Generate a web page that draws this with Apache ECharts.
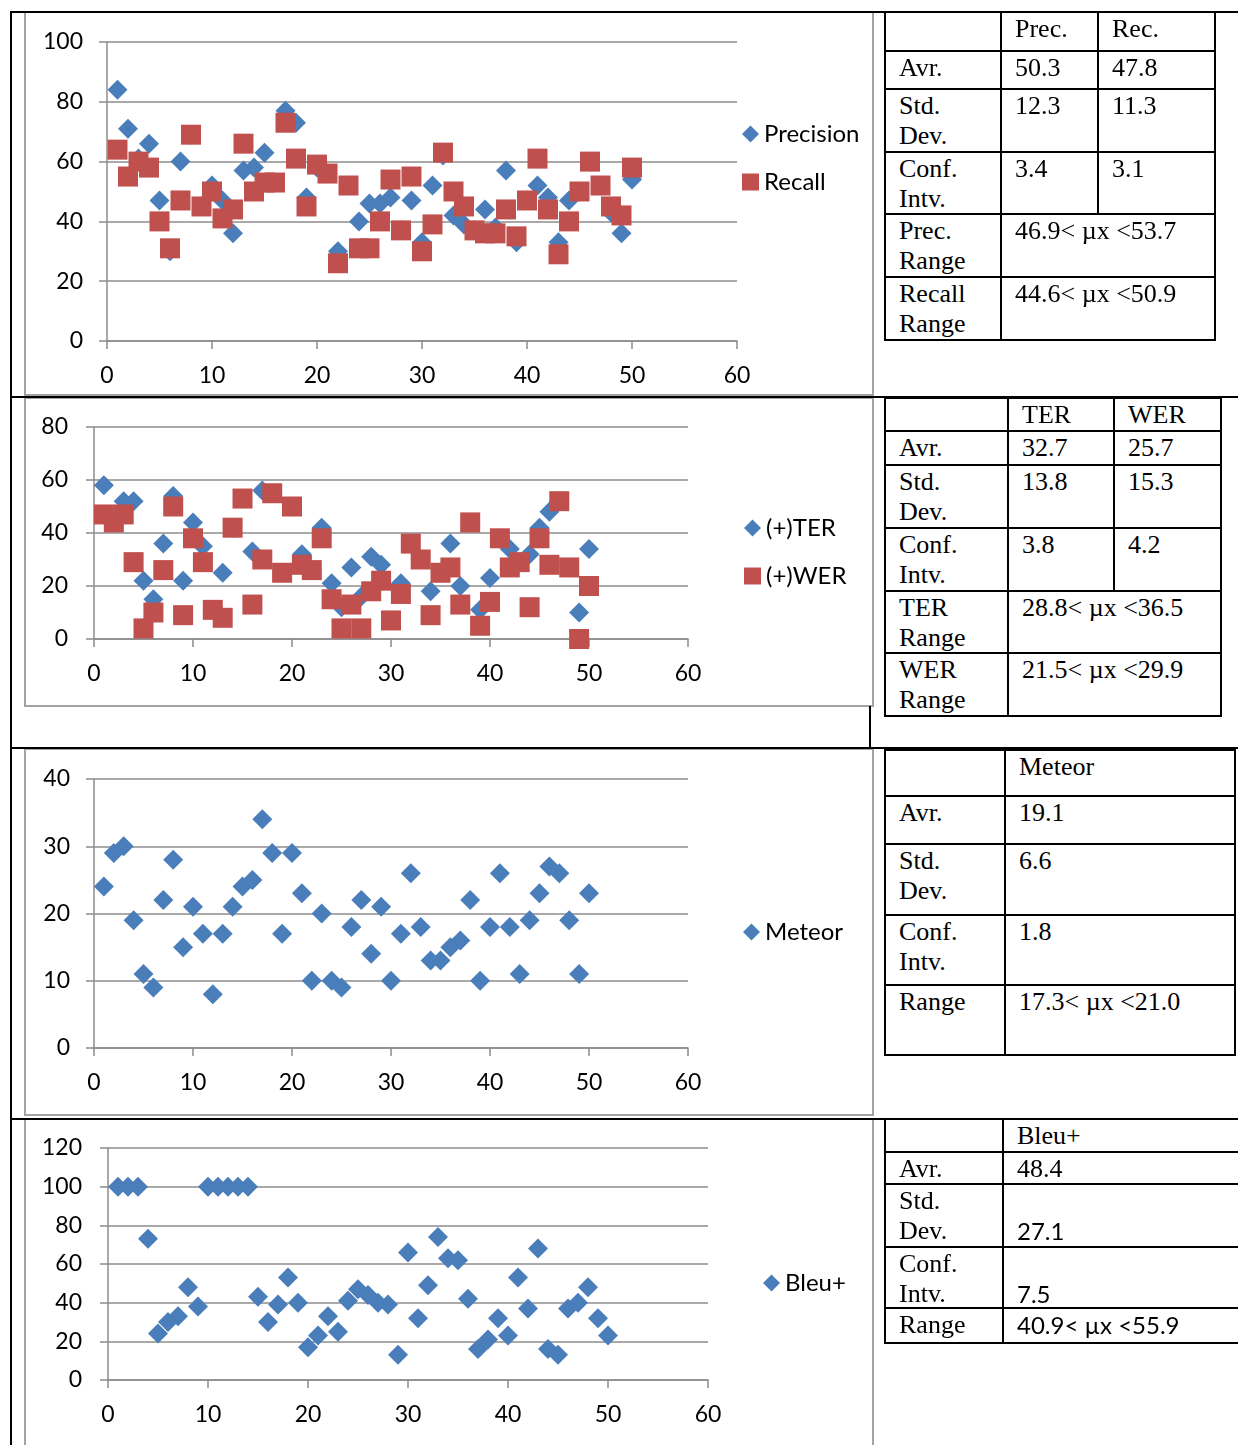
<!DOCTYPE html>
<html><head><meta charset="utf-8">
<script src="https://cdn.jsdelivr.net/npm/echarts@6/dist/echarts.min.js"></script>
<style>
html,body{margin:0;padding:0;background:#fff;}
body{width:1238px;height:1445px;overflow:hidden;position:relative;}
.ln{position:absolute;background:#000;z-index:5;}
.frame{position:absolute;border:2px solid #a3a3a3;box-sizing:border-box;z-index:1;}
.chart{position:absolute;z-index:2;}
.t{position:absolute;font-family:"Liberation Serif","Times New Roman",serif;font-size:26px;line-height:30px;color:#000;white-space:nowrap;z-index:6;}
.t.s{font-family:Lato,"Open Sans",sans-serif;font-size:24px;}
</style></head><body>
<div id="c1" class="chart" style="left:25px;top:12px;width:848px;height:383px"></div>
<div id="c2" class="chart" style="left:25px;top:398px;width:848px;height:308px"></div>
<div id="c3" class="chart" style="left:25px;top:750px;width:848px;height:365px"></div>
<div id="c4" class="chart" style="left:25px;top:1120px;width:848px;height:325px"></div>
<script>
// ---------- data ----------
const sampleIds = [1,2,3,4,5,6,7,8,9,10,11,12,13,14,15,16,17,18,19,20,21,22,23,24,25,26,27,28,29,30,31,32,33,34,35,36,37,38,39,40,41,42,43,44,45,46,47,48,49,50];
const precision = [84,71,61,66,47,30,60,69,45,52, 47,36,57,58,63,53,77,73,48,58, 56,30,52,40,46,46,48,37,47,33, 52,62,42,39,37,44,38,57,33,47, 52,48,33,47,50,60,52,43,36,54];
const recall    = [64,55,60,58,40,31,47,69,45,50, 41,44,66,50,53,53,73,61,45,59, 56,26,52,31,31,40,54,37,55,30, 39,63,50,45,37,36,36,44,35,47, 61,44,29,40,50,60,52,45,42,58];
const terScores = [58,44,52,52,22,15,36,54,22,44, 35,11,25,42,53,33,56,55,25,50, 32,26,42,21,12,27,16,31,28,7, 21,36,30,18,25,36,20,44,11,23, 38,34,29,32,42,48,52,27,10,34];
const werScores = [47,44,47,29,4,10,26,50,9,38, 29,11,8,42,53,13,30,55,25,50, 28,26,38,15,4,13,4,18,22,7, 17,36,30,9,25,27,13,44,5,14, 38,27,29,12,38,28,52,27,0,20];
const meteorScores = [24,29,30,19,11,9,22,28,15,21, 17,8,17,21,24,25,34,29,17,29, 23,10,20,10,9,18,22,14,21,10, 17,26,18,13,13,15,16,22,10,18, 26,18,11,19,23,27,26,19,11,23];
const bleuScores = [100,100,100,73,24,30,33,48,38,100, 100,100,100,100,43,30,39,53,40,17, 23,33,25,41,47,44,40,39,13,66, 32,49,74,63,62,42,16,21,32,23, 53,37,68,16,13,37,40,48,32,23];
const xAxisRange = [0, 60, 10];
const yRanges = { c1:[0,100,20], c2:[0,80,20], c3:[0,40,10], c4:[0,120,20] };
const seriesNames = { p:'Precision', r:'Recall', ter:'(+)TER', wer:'(+)WER', met:'Meteor', bleu:'Bleu+' };

// table texts
const table1 = [["", "Prec.", "Rec."],["Avr.","50.3","47.8"],["Std.<br>Dev.","12.3","11.3"],["Conf.<br>Intv.","3.4","3.1"],["Prec.<br>Range","46.9&lt; µx &lt;53.7"],["Recall<br>Range","44.6&lt; µx &lt;50.9"]];
const table2 = [["", "TER", "WER"],["Avr.","32.7","25.7"],["Std.<br>Dev.","13.8","15.3"],["Conf.<br>Intv.","3.8","4.2"],["TER<br>Range","28.8&lt; µx &lt;36.5"],["WER<br>Range","21.5&lt; µx &lt;29.9"]];
const table3 = [["", "Meteor"],["Avr.","19.1"],["Std.<br>Dev.","6.6"],["Conf.<br>Intv.","1.8"],["Range","17.3&lt; µx &lt;21.0"]];
const table4 = [["", "Bleu+"],["Avr.","48.4"],["Std.<br>Dev.","s2:27.1"],["Conf.<br>Intv.","s2:7.5"],["Range","s:40.9&lt; µx &lt;55.9"]];

// ---------- layout (lines/tables) ----------
function line(x,y,w,h){const d=document.createElement('div');d.className='ln';d.style.cssText=`left:${x}px;top:${y}px;width:${w}px;height:${h}px`;document.body.appendChild(d);}
function frame(x,y,w,h){const d=document.createElement('div');d.className='frame';d.style.cssText=`left:${x}px;top:${y}px;width:${w}px;height:${h}px`;document.body.appendChild(d);}
frame(24,11,850,385); frame(24,397,850,310); frame(24,748,850,368); frame(24,1118,850,340);
line(10,11,2,1434);
[11,396,747,1118].forEach(y=>line(10,y,1228,2));
line(869,706,2,42);

function table(cols, rows, cells, off){
  const L=cols[0], R=cols[cols.length-1];
  rows.forEach(y=>line(L-1,y-1,R-L+2,2));
  for(let r=0;r<rows.length-1;r++){
    const y0=rows[r], y1=rows[r+1];
    const row=cells[r];
    line(L-1,y0-1,2,y1-y0+2); line(R-1,y0-1,2,y1-y0+2);
    for(let c=1;c<cols.length-1;c++){ if(row.length>c) line(cols[c]-1,y0-1,2,y1-y0+2); }
    row.forEach((txt,c)=>{
      if(!txt) return;
      const d=document.createElement('div'); d.className='t';
      let extra=0;
      if(txt.startsWith('s2:')){d.classList.add('s');txt=txt.slice(3);extra=30;}
      else if(txt.startsWith('s:')){d.classList.add('s');txt=txt.slice(2);}
      d.innerHTML=txt;
      d.style.left=(cols[c]+14)+'px'; d.style.top=(y0+off+extra)+'px';
      document.body.appendChild(d);
    });
  }
}
table([885,1001,1098,1215],[12,51,89,152,214,277,340],table1,2);
table([885,1008,1114,1221],[398,431,465,528,591,653,716],table2,1.5);
table([885,1005,1235],[750,796,844,915,985,1055],table3,2);
table([885,1003,1245],[1119,1152,1184,1247,1308,1343],table4,2);

// ---------- charts ----------
const BLUE='#4A7EBB', RED='#C0504D', AX='#8c8c8c';
function pts(vals){return sampleIds.map((x,i)=>[x,vals[i]]);}
function build(id, grid, yMargin, legendPos, series){
  const chart=echarts.init(document.getElementById(id),null,{renderer:'canvas'});
  const yr=yRanges[id];
  const lab={fontSize:23,color:'#000',fontFamily:'Lato'};
  chart.setOption({
    animation:false,
    textStyle:{fontFamily:'Lato'},
    grid:Object.assign({containLabel:false,outerBoundsMode:'none'},grid),
    xAxis:{type:'value',min:xAxisRange[0],max:xAxisRange[1],interval:xAxisRange[2],
      axisLine:{show:true,onZero:false,lineStyle:{color:AX,width:1.5}},
      axisTick:{show:true,inside:false,length:8,lineStyle:{color:AX,width:1.5}},
      axisLabel:Object.assign({margin:23,showMinLabel:true,showMaxLabel:true},lab),
      splitLine:{show:false}},
    yAxis:{type:'value',min:yr[0],max:yr[1],interval:yr[2],
      axisLine:{show:true,lineStyle:{color:AX,width:1.5}},
      axisTick:{show:true,inside:false,length:8,lineStyle:{color:AX,width:1.5}},
      axisLabel:Object.assign({margin:yMargin,showMinLabel:true,showMaxLabel:true},lab),
      splitLine:{show:true,lineStyle:{color:AX,width:1.5}}},
    legend:{orient:'vertical',left:legendPos[0],top:legendPos[1],padding:0,itemWidth:17,itemHeight:17,itemGap:24,
      selectedMode:false,
      textStyle:{fontSize:24,color:'#000',fontFamily:'Lato',lineHeight:24},
      data:series.map(s=>({name:s.name,icon:s.symbol,itemStyle:{color:s.color}}))},
    series:series.map(s=>({type:'scatter',name:s.name,data:pts(s.values),symbol:s.symbol,
      symbolSize:20,itemStyle:{color:s.color,opacity:1},emphasis:{disabled:true}}))
  });
}
build('c1',{left:82,top:30,width:630,height:299},24,[717,110],[
  {name:seriesNames.p,values:precision,symbol:'diamond',color:BLUE},
  {name:seriesNames.r,values:recall,symbol:'rect',color:RED}]);
build('c2',{left:69,top:29,width:594,height:212},26,[719,118],[
  {name:seriesNames.ter,values:terScores,symbol:'diamond',color:BLUE},
  {name:seriesNames.wer,values:werScores,symbol:'rect',color:RED}]);
build('c3',{left:69,top:29,width:594,height:269},24,[718,170],[
  {name:seriesNames.met,values:meteorScores,symbol:'diamond',color:BLUE}]);
build('c4',{left:83,top:28,width:600,height:232},26,[738,151],[
  {name:seriesNames.bleu,values:bleuScores,symbol:'diamond',color:BLUE}]);
</script>
</body></html>
